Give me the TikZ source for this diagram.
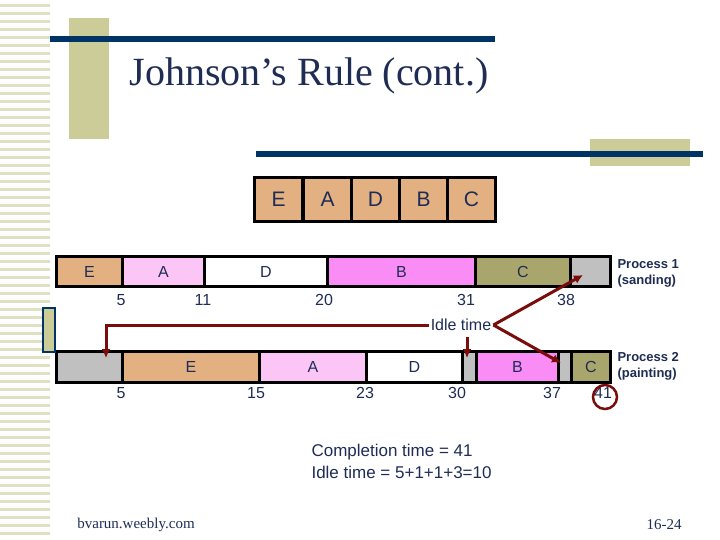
\documentclass[tikz,border=0pt]{standalone}
\usepackage{fontspec}
\setsansfont{Liberation Sans}
\setmainfont{Liberation Serif}
\begin{document}
\begin{tikzpicture}[x=1pt,y=-1pt,
 cell/.style={draw=black,line width=3pt},
 lbl/.style={font=\sffamily\fontsize{16}{17}\selectfont,text=navy},
 num/.style={font=\sffamily\fontsize{16}{17}\selectfont,text=navy},
 arr/.style={draw=dred,line width=3pt,-{Latex[length=9pt,width=9pt]}}]
\usetikzlibrary{arrows.meta}
\definecolor{navy}{HTML}{1F2D55}
\definecolor{bluel}{HTML}{003366}
\definecolor{olive}{HTML}{CCCC99}
\definecolor{tan}{HTML}{E3B081}
\definecolor{lpink}{HTML}{FBC6F5}
\definecolor{pink}{HTML}{F98CF5}
\definecolor{cbar}{HTML}{A9A66D}
\definecolor{grey}{HTML}{C0C0C0}
\definecolor{dred}{HTML}{7B0C0C}
\useasboundingbox (0,0) rectangle (720,540);
\fill[white] (0,0) rectangle (720,540);
\foreach \y in {4,12,...,536} \fill[olive!60] (0,\y) rectangle (50,\y+3);
\fill[olive] (69,18) rectangle (109,139);
\fill[bluel] (50,36) rectangle (495,42);
\node[font=\fontsize{40}{44}\selectfont,text=navy] (title) at (309,76) {Johnson’s Rule (cont.)};
\fill[olive] (590,139) rectangle (690,166);
\fill[bluel] (256,151) rectangle (703,157);
% sequence
\foreach \x/\t [count=\i] in {253/E,302/A,350/D,398/B,446/C}
  \node[cell,fill=tan,minimum width=48pt,minimum height=44pt,anchor=north west,font=\sffamily\fontsize{21}{22}\selectfont,text=navy] (s\i) at (\x,176) {\t};
% top bar
\foreach \a/\b/\c/\t/\n in {55/121/tan/E/tE,121/203/lpink/A/tA,203/326/white/D/tD,326/474/pink/B/tB,474/569/cbar/C/tC,569/609/grey//tG}
  \node[cell,fill=\c,minimum width=\b-\a,minimum height=30pt,anchor=north west,lbl,inner sep=0pt] (\n) at (\a,255) {\t};
\foreach \x/\t in {121/5,203/11,324/20,466/31,566/38} \node[num] at (\x,300) {\t};
\node[lbl,font=\sffamily\bfseries\fontsize{13}{16}\selectfont,align=left,anchor=west] (p1) at (614,273) {Process 1\\(sanding)};
% bottom bar
\foreach \a/\b/\c/\t/\n in {55/121/grey//bG1,121/258/tan/E/bE,258/365/lpink/A/bA,365/461/white/D/bD,461/475/grey//bG2,475/557/pink/B/bB,557/570/grey//bG3,570/609/cbar/C/bC}
  \node[cell,fill=\c,minimum width=\b-\a,minimum height=31pt,anchor=north west,lbl,inner sep=0pt] (\n) at (\a,350) {\t};
\foreach \x/\t in {121/5,256/15,365/23,457/30,552/37,603/41} \node[num] at (\x,393) {\t};
\node[lbl,font=\sffamily\bfseries\fontsize{13}{16}\selectfont,align=left,anchor=west] (p2) at (614,366) {Process 2\\(painting)};
\node[draw=dred,line width=2.5pt,circle,minimum size=24pt] (c41) at (605,397) {};
\draw[draw=bluel,fill=olive,line width=2.5pt] (43,308) rectangle (55,352);
% idle
\node[lbl,inner sep=2pt] (idle) at (461,325) {Idle time};
\coordinate (k1) at (106,325);
\coordinate (e1) at (106,358);
\draw[arr] (idle.west) -- (k1) -- (e1);
\coordinate (s2) at (467,337);
\coordinate (e2) at (467,358);
\draw[arr] (s2) -- (e2);
\coordinate (e3) at (583,275);
\coordinate (e4) at (561,363);
\draw[arr] (idle.east) -- (e3);
\draw[arr] (idle.east) -- (e4);
\node[font=\sffamily\fontsize{17}{22}\selectfont,text=navy,align=left,anchor=north west] (comp) at (308,441) {Completion time = 41\\Idle time = 5+1+1+3=10};
\node[font=\fontsize{15}{16}\selectfont,text=navy] (web) at (136,525) {bvarun.weebly.com};
\node[font=\fontsize{15}{16}\selectfont,text=navy] (pg) at (664,525) {16-24};
\end{tikzpicture}
\end{document}
